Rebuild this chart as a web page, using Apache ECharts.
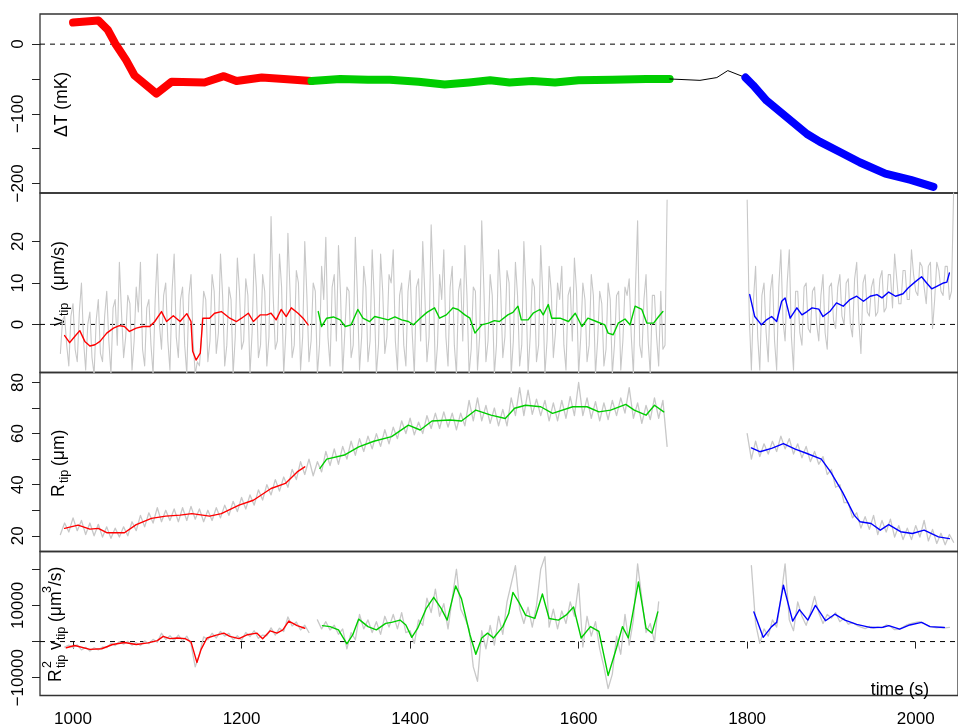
<!DOCTYPE html>
<html><head><meta charset="utf-8">
<script src="https://cdn.jsdelivr.net/npm/echarts@6/dist/echarts.min.js"></script>
<style>html,body{margin:0;padding:0;background:#fff}#c{width:958px;height:728px}</style>
</head><body><div id="c"></div>
<script>
const FONT = '"Liberation Sans", Arial, Helvetica, sans-serif';

// ---- axes ----
const xTicks = [1000, 1200, 1400, 1600, 1800, 2000];
const yTicks1 = [-200, -150, -100, -50, 0];
const yLabels1 = [-200, -100, 0];
const yTicks2 = [0, 10, 20];
const yTicks3 = [20, 30, 40, 50, 60, 70, 80];
const yLabels3 = [20, 40, 60, 80];
const yTicks4 = [-10000, 0, 10000, 20000];
const yLabels4 = [-10000, 10000];

// ---- panel 1: Delta T (mK) ----
const dT_red = [[1000,31],[1030,34],[1041,21],[1050,1],[1063,-23],[1073,-45],[1099,-71],[1117,-54],[1156,-55],[1179,-46],[1194,-53],[1224,-48],[1250,-50],[1283,-53]];
const dT_green = [[1283,-53],[1317,-50],[1350,-51],[1376,-51],[1410,-54],[1441,-58],[1470,-55],[1495,-52],[1518,-55],[1545,-53],[1572,-55],[1600,-52],[1640,-51],[1680,-50],[1708,-50]];
const dT_black = [[1708,-50],[1744,-52],[1764,-48],[1777,-38],[1798,-48]];
const dT_blue = [[1798,-48],[1807,-59],[1823,-81],[1847,-105],[1871,-129],[1886,-140],[1910,-155],[1934,-170],[1964,-186],[1994,-195],[2021,-205]];

// ---- panel 2: v_tip (um/s) ; raw samples every 2.5 s (two interleaved half-series) ----
const HALF = 2.5;
const vGrayA_start = 985, vGrayB_start = 1800;
const vGrayA = [-7,2,-10,5,-9,10,-11,3,-12,6,
 -9,8,-12,6,15,-8,7,-11,9,15,
 -10,6,-12,17,-6,10,-11,17,-8,9,
 -12,12,-12,-10,8,-9,12,-7,17,-10,
 9,-12,16,-6,11,-12,17,-8,12,-10,
 26,-6,17,-12,22,-8,13,-11,20,-9,
 10,-12,14,21,-10,12,19,-12,9,-8,
 21,-11,14,-9,18,-12,17,-7,12,18,
 -11,10,-10,13,-12,11,20,-9,24,-12,
 12,18,-10,14,-12,11,19,-12,9,-11,
 25,-9,12,-12,18,-8,13,-12,15,-10,
 20,-12,11,-9,19,-12,14,-8,10,14,
 -11,9,16,-12,10,-9,12,-12,8,-10,
 10,-12,7,-11,9,11,-12,25,-8,12,
 -12,7,-10,-6,30];
const vGrayA_mid = [1,-5,2,-6,3,-4,0,-8,1,-7,
 2,-4,4,-5,3,-3,5,-4,3,-6,
 4,-5,6,0,7,-4,8,-3,6,-5,
 7,-4,-9,-3,6,-4,8,-2,7,-5,
 6,-3,8,-4,7,-2,9,-5,8,-3,
 7,-4,9,-2,8,-5,10,-3,7,-4,
 8,-5,6,-3,9,-4,7,-2,8,-5,
 7,-3,9,-4,6,-5,8,-3,10,-4,
 7,-5,8,-2,9,-4,7,-3,10,-5,
 6,-3,9,-5,8,-4,7,-6,8,-3,
 9,-4,7,-5,8,-3,10,-4,7,-5,
 8,-3,9,-5,7,-4,8,-2,6,-5,
 7,-4,8,-3,6,-5,7,-4,5,-6,
 6,-5,8,-4,7,-3,9,-5,6,-4,
 7,-3,8,-5];
const vGrayB = [30,-11,14,-11,10,-9,12,-11,18,-4,
 18,-11,8,-5,10,-2,9,-4,12,-6,
 10,-1,12,0,11,-3,15,-7,12,2,
 11,3,13,4,12,17,5,13,6,18,
 8,15,9,14,-1,15,8,14,6,32];
const vGrayB_mid = [2,6,-3,7,-2,8,-4,9,1,10,
 -3,8,-2,9,-1,8,0,7,-2,9,
 1,9,2,10,0,11,1,10,3,9,
 2,11,3,12,4,11,5,13,6,12,
 7,14,5,15,6,13,7,14,8];
const v_red = [[990,-2.7],[996,-4.4],[1002,-2.9],[1008,-1.5],[1014,-4.1],[1020,-5.2],[1026,-4.9],[1032,-4.1],[1040,-2.1],[1048,-0.9],[1055,-0.3],[1061,-0.5],[1067,-1.7],[1075,-0.9],[1083,-0.5],[1091,-0.5],[1097,0.7],[1105,3.1],[1111,0.7],[1119,2.1],[1127,0.7],[1135,2.6],[1140,0.7],[1142,-6.5],[1146,-8.6],[1151,-6.9],[1154,1.5],[1162,1.5],[1168,2.7],[1176,3.1],[1186,1.5],[1194,0.7],[1200,1.5],[1208,2.7],[1214,0.7],[1222,2.3],[1230,2.3],[1235,2.7],[1241,1.1],[1247,3.6],[1253,1.9],[1259,4.0],[1267,2.7],[1273,1.5],[1279,-0.1]];
const v_green = [[1291,3.1],[1295,-0.5],[1301,1.5],[1309,1.8],[1317,1.1],[1323,-0.5],[1330,-0.1],[1338,3.6],[1344,1.5],[1352,0.7],[1358,1.9],[1366,1.5],[1374,1.1],[1382,1.8],[1390,1.1],[1398,0.7],[1404,-0.1],[1412,1.5],[1420,2.9],[1429,4.0],[1435,1.5],[1443,2.3],[1451,4.0],[1457,3.6],[1465,2.3],[1471,1.5],[1477,-2.1],[1485,-0.1],[1493,0.3],[1500,0.9],[1506,0.7],[1516,2.3],[1522,2.9],[1528,4.4],[1532,1.1],[1540,1.1],[1546,2.7],[1554,3.6],[1558,2.3],[1564,4.8],[1568,1.5],[1578,1.5],[1588,0.7],[1596,2.7],[1604,-0.5],[1611,1.5],[1621,0.7],[1631,-0.1],[1635,-2.1],[1641,-2.5],[1647,0.3],[1655,1.3],[1661,-0.1],[1667,4.4],[1675,3.6],[1681,0.3],[1689,0.3],[1695,1.9],[1700,3.1]];
const v_blue = [[1803,7.2],[1809,1.9],[1817,-0.1],[1823,1.1],[1829,1.9],[1835,0.7],[1841,5.6],[1845,6.4],[1851,1.5],[1859,4.0],[1865,2.3],[1871,3.1],[1877,4.0],[1885,3.7],[1890,1.9],[1898,3.1],[1906,5.2],[1914,4.4],[1922,6.0],[1930,6.8],[1938,5.6],[1946,6.8],[1954,7.2],[1960,6.4],[1968,7.8],[1976,6.8],[1985,7.4],[1991,8.8],[1999,10.2],[2007,11.5],[2013,10.0],[2019,8.6],[2025,9.2],[2033,10.0],[2037,10.2],[2040,12.4]];

// ---- panel 3: R_tip (um) ----
const STEP = 5;
const rGrayA_start = 985, rGrayB_start = 1800;
const rGrayA = [20.5,25,21.5,27,22,26,20.5,25,20,24.5,
 19.5,23.5,19,23,19.5,23.5,20,25.5,22,28,
 23.5,29,25,31,25.5,30,26,30.5,25.5,31,
 26,31.5,26.5,30.5,25.5,30,26,31,27,32,
 28,33.5,29.5,35,30.5,36,32,38,34,40,
 36,42,37.5,43,39,46,42,49,44,50,
 43.5,49,45,53,47.5,54,48,55,50,57,
 51.5,58,53,59,54,60,55,61.5,56,62.5,
 58,65,60,66,59.5,64.5,60,67,62,68,
 62,68.5,62.5,68,61.5,68,63,73,65,74,
 65,71,64,70,63,69.5,63,74,67,78,
 67,77,67.5,73.5,67,73,65,72,65,73,
 66,74.5,67,80,67,74,66,72.5,65,72,
 65.5,73,67,74,68,78,66,72,64,71,
 65.5,74,66,73,55];
const rGrayB = [60,50,57,51,56,52,57,53,59,54,
 58,52,56,50.5,55,49,53,48,51,44,
 46,39,40,33,33,27,29,23,27.5,22.5,
 28,20.5,26,21.5,26.5,19.5,24,18.5,23,18.5,
 24,19.5,26,18,22.5,17,21,16.5,20.5,17.5];
const R_red = [[990,22.9],[1006,24.2],[1020,22.6],[1030,22.9],[1040,21.2],[1061,21.2],[1075,24.4],[1093,26.8],[1110,27.7],[1127,28.1],[1141,28.7],[1162,27.7],[1176,28.7],[1197,32],[1214,33.9],[1235,38.5],[1252,40.5],[1266,45],[1275,47]];
const R_green = [[1293,46.4],[1301,50],[1322,51.6],[1339,54.8],[1357,57],[1378,58.8],[1398,63.3],[1412,61.4],[1426,64.9],[1447,65.3],[1461,64.9],[1478,69.2],[1496,67.2],[1513,65.9],[1524,69.9],[1537,71.1],[1555,70.5],[1569,67.9],[1593,70.5],[1610,70.5],[1624,68.5],[1638,69.2],[1656,71.4],[1666,69.2],[1680,67.2],[1690,71.1],[1701,68.5]];
const R_blue = [[1805,54.4],[1815,52.9],[1829,54.2],[1843,56.1],[1857,53.9],[1871,52.2],[1888,50],[1899,45],[1913,37.2],[1927,28.1],[1934,25.5],[1947,24.8],[1958,22.2],[1968,24.4],[1982,21.6],[1996,20.9],[2010,22.2],[2027,19.6],[2040,18.9]];

// ---- panel 4: R_tip^2 v_tip (um^3/s) ----
const fGrayA_start = 990, fGrayB_start = 1805;
const fGrayA = [-1500,-1000,-1600,-900,-2300,-1600,-2600,-1700,-2300,-1500,
 -1700,-500,-1100,0,-700,100,-1000,-300,-1100,200,
 -600,600,-200,2300,600,1600,300,1800,200,1500,
 -700,-7000,-3500,1300,500,2300,1000,2800,1500,2300,
 500,1600,400,2500,1400,3000,900,1800,1600,3800,
 1800,3700,2800,6800,4300,5400,3200,4500,2500,null,
 6000,3500,5500,3200,4500,2000,3500,-2000,2500,500,
 7500,3500,6000,2500,5500,2000,7000,4000,7500,3500,
 8000,2500,3000,-500,6000,4500,12000,8000,14500,7000,
 10500,3500,12000,20000,9000,6500,3500,-7000,-11000,3000,
 -2000,4500,-1000,7000,2000,11000,16000,21000,9000,5000,
 9500,4000,10000,20000,23500,4000,9000,3500,8500,5000,
 11000,7000,16000,-1500,7000,1500,5500,-2000,-7000,-13000,
 -9000,1500,-3500,7500,-1000,6000,21500,12000,2500,5000,
 0,11000];
const fGrayB = [21000,5000,-500,3500,1500,6000,4000,12000,21500,6000,
 3000,11000,7000,4500,8000,12500,8000,5000,7500,6500,
 8000,5500,6500,4800,5200,4500,4000,3600,4200,3700,
 4000,3800,4600,4200,3300,3400,4000,4700,5000,5300,
 5500,5000,4300,4000,3800,3900,3800,3900];
const F_red = [[992,-1712],[1002,-1081],[1020,-2162],[1034,-1982],[1047,-811],[1061,-270],[1075,-811],[1089,-360],[1100,270],[1107,1442],[1115,811],[1124,991],[1133,811],[1140,-90],[1147,-5766],[1152,-2162],[1159,991],[1169,1712],[1179,2343],[1186,1442],[1197,811],[1207,1892],[1218,2343],[1225,811],[1234,2973],[1242,2343],[1249,3244],[1256,5676],[1266,4415],[1275,3694]];
const F_green = [[1296,4415],[1305,4145],[1315,3244],[1325,-631],[1332,1892],[1339,6217],[1350,4145],[1360,3244],[1371,5046],[1378,5316],[1388,5947],[1395,4595],[1402,1171],[1409,3694],[1419,9100],[1428,12254],[1437,9100],[1444,5947],[1454,15407],[1461,11803],[1471,1892],[1478,-3514],[1485,991],[1492,2343],[1499,991],[1510,4145],[1517,7749],[1522,13605],[1529,10902],[1537,7298],[1548,6397],[1557,13155],[1565,6397],[1576,5947],[1585,7298],[1594,9550],[1603,991],[1614,4145],[1624,2793],[1635,-9370],[1645,-1712],[1652,4145],[1659,991],[1671,16488],[1680,3694],[1687,2343],[1694,8199]];
const F_blue = [[1808,8199],[1819,1171],[1829,4145],[1835,5316],[1843,15587],[1854,5676],[1862,8830],[1872,5947],[1881,10001],[1893,5766],[1904,7568],[1916,5947],[1930,4775],[1947,3874],[1961,3964],[1968,4415],[1981,3424],[1993,4595],[2007,5316],[2017,4145],[2034,3874]];

// ---- build ----
const X_MIN = 960.8, X_MAX = 2050.2;
const RED = '#ff0000', GREEN = '#00cd00', BLUE = '#0000ff', GRAY = '#c8c8c8';
const toPairs = (t0, vals) => vals.map((v, i) => [t0 + i * STEP, v]);
// merge samples at t0 + 5i and t0 + 2.5 + 5i into one time-ordered list
function interleave(t0, whole, mid) {
  const out = [];
  for (let i = 0; i < whole.length; i++) {
    out.push([t0 + i * STEP, whole[i]]);
    if (i < mid.length) out.push([t0 + i * STEP + HALF, mid[i]]);
  }
  return out;
}
const minus = v => String(v).replace('-', '\u2212');

const gridDefs = [
  { top: 14, height: 179, min: -213.8, max: 43.3, ticks: yTicks1, labels: yLabels1 },
  { top: 193, height: 179.5, min: -11.6, max: 31.7, ticks: yTicks2, labels: yTicks2 },
  { top: 372.5, height: 179, min: 13.86, max: 83.9, ticks: yTicks3, labels: yLabels3 },
  { top: 551.5, height: 148.5, min: -14915, max: 24915, ticks: yTicks4, labels: yLabels4 }
];

const grid = gridDefs.map(g => ({
  left: 40, right: 0, top: g.top, height: g.height, show: true,
  borderColor: '#333', borderWidth: 1.3, backgroundColor: 'transparent', containLabel: false
}));

const xAxis = gridDefs.map((g, i) => ({
  type: 'value', gridIndex: i, min: X_MIN, max: X_MAX,
  axisLine: { show: false }, splitLine: { show: false },
  axisTick: { show: i === 3, customValues: xTicks, length: 7, lineStyle: { color: '#222', width: 1 } },
  axisLabel: { show: i === 3, customValues: xTicks, fontSize: 17, fontFamily: FONT, color: '#000',
               margin: 24, verticalAlign: 'middle', formatter: v => String(v) }
}));

const yAxis = gridDefs.map((g, i) => ({
  type: 'value', gridIndex: i, min: g.min, max: g.max,
  axisLine: { show: false }, splitLine: { show: false },
  axisTick: { show: true, customValues: g.ticks, length: 8, lineStyle: { color: '#222', width: 1 } },
  axisLabel: { show: true, customValues: g.labels, rotate: 90, fontSize: 17, fontFamily: FONT, color: '#000',
               margin: 22, align: 'center', verticalAlign: 'middle', formatter: minus }
}));

function ln(i, data, color, width, z) {
  return {
    type: 'line', xAxisIndex: i, yAxisIndex: i, data: data, symbol: 'none', showSymbol: false,
    silent: true, animation: false, z: z, connectNulls: false,
    lineStyle: { color: color, width: width, cap: 'round', join: 'round' }
  };
}
function zero(i) {
  return { type: 'line', xAxisIndex: i, yAxisIndex: i, data: [[X_MIN, 0], [X_MAX, 0]], symbol: 'none',
    silent: true, animation: false, z: 1, lineStyle: { color: '#000', width: 1, type: [5, 5] } };
}

const series = [
  zero(0),
  ln(0, dT_red, RED, 8, 3), ln(0, dT_green, GREEN, 8, 3), ln(0, dT_black, '#000', 1, 3), ln(0, dT_blue, BLUE, 8, 3),
  zero(1),
  ln(1, interleave(vGrayA_start, vGrayA, vGrayA_mid), GRAY, 1.1, 2),
  ln(1, interleave(vGrayB_start, vGrayB, vGrayB_mid), GRAY, 1.1, 2),
  ln(1, v_red, RED, 1.4, 3), ln(1, v_green, GREEN, 1.4, 3), ln(1, v_blue, BLUE, 1.4, 3),
  ln(2, toPairs(rGrayA_start, rGrayA), GRAY, 1.3, 2), ln(2, toPairs(rGrayB_start, rGrayB), GRAY, 1.3, 2),
  ln(2, R_red, RED, 1.4, 3), ln(2, R_green, GREEN, 1.4, 3), ln(2, R_blue, BLUE, 1.4, 3),
  zero(3),
  ln(3, toPairs(fGrayA_start, fGrayA), GRAY, 1.3, 2), ln(3, toPairs(fGrayB_start, fGrayB), GRAY, 1.3, 2),
  ln(3, F_red, RED, 1.4, 3), ln(3, F_green, GREEN, 1.4, 3), ln(3, F_blue, BLUE, 1.4, 3)
];

// rotated axis titles: pieces placed along the text direction (local x = up on screen)
function piece(text, x, y, size) {
  return { type: 'text', x: x, y: y, style: { text: text, fontSize: size, fontFamily: FONT, fill: '#000',
    align: 'left', verticalAlign: 'middle' } };
}
const M = 17.5, S = 12.5;
const graphic = [
  { type: 'group', x: 62, y: 137, rotation: Math.PI / 2, z: 10, children: [ piece('\u0394T (mK)', 0, 0, M) ] },
  { type: 'group', x: 59.5, y: 326, rotation: Math.PI / 2, z: 10, children: [
      piece('v', 0, 0, M), piece('tip', 10, 5.5, S), piece('(\u03bcm/s)', 35, 0, M) ] },
  { type: 'group', x: 59, y: 497, rotation: Math.PI / 2, z: 10, children: [
      piece('R', 0, 0, M), piece('tip', 14, 5.5, S), piece('(\u03bcm)', 31, 0, M) ] },
  { type: 'group', x: 56, y: 682, rotation: Math.PI / 2, z: 10, children: [
      piece('R', 0, 0, M), piece('2', 14, -8, S), piece('tip', 14, 6, S),
      piece('v', 32, 0, M), piece('tip', 42, 6, S),
      piece('(\u03bcm', 60, 0, M), piece('3', 89, -8, S), piece('/s)', 96, 0, M) ] },
  { type: 'text', x: 900, y: 690, z: 10, style: { text: 'time (s)', fontSize: M, fontFamily: FONT, fill: '#000',
      align: 'center', verticalAlign: 'middle' } }
];

const chart = echarts.init(document.getElementById('c'), null, { renderer: 'canvas' });
chart.setOption({ animation: false, grid, xAxis, yAxis, series, graphic });
</script>
</body></html>
